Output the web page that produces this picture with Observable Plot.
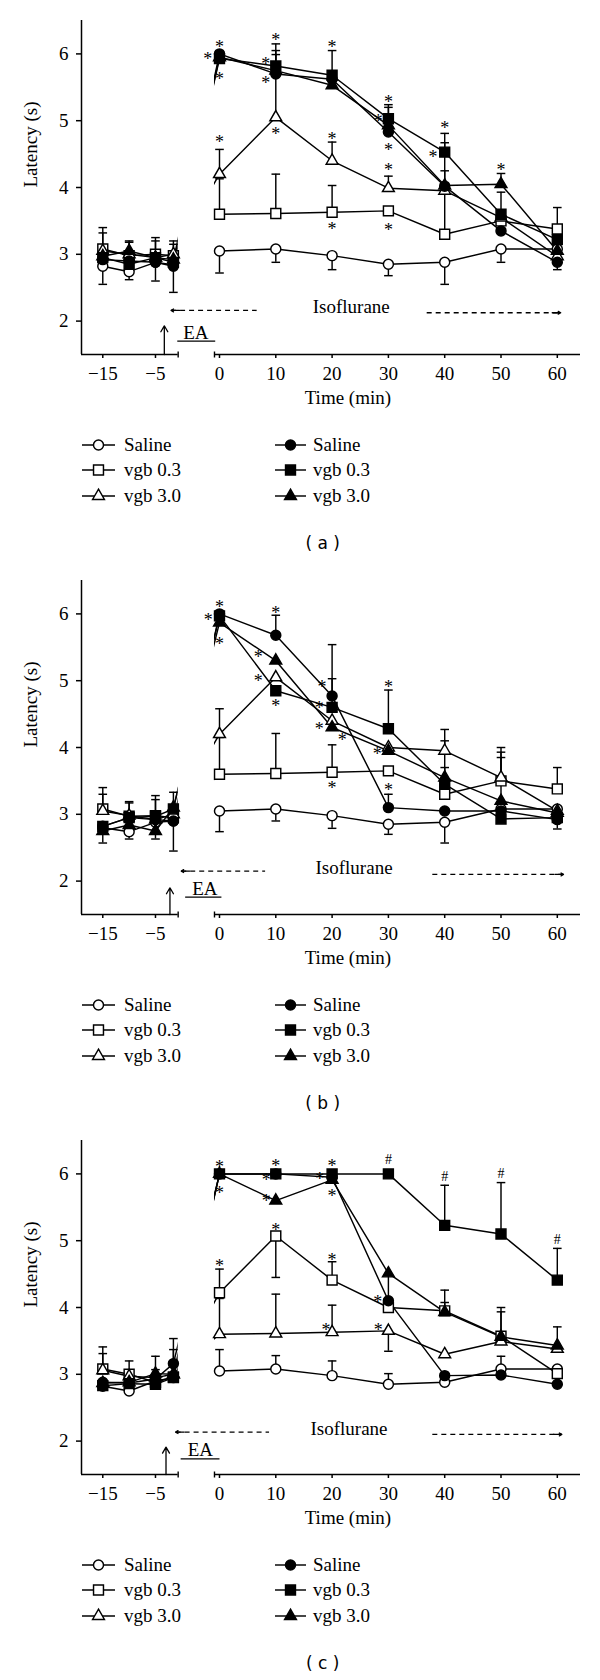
<!DOCTYPE html>
<html><head><meta charset="utf-8">
<script src="https://cdn.jsdelivr.net/npm/d3@7"></script>
<script src="https://cdn.jsdelivr.net/npm/@observablehq/plot@0.6"></script>
<style>
body{margin:0;background:#fff;}
.block{position:relative;width:600px;height:560px;overflow:hidden;}
.block svg{position:absolute;left:0;}
.block svg text{font-family:"Liberation Serif","Times New Roman",serif;}
.block svg text.cap{font-family:"DejaVu Sans",sans-serif;}
</style></head><body><div id="root"></div><script>
// ---------- shared labels / ticks ----------
const times = [-15, -10, -5, -1.6, 0, 10, 20, 30, 40, 50, 60];
const xTickValues = [-15, -5, 0, 10, 20, 30, 40, 50, 60];
const xTickLabels = ["\u221215", "\u22125", "0", "10", "20", "30", "40", "50", "60"];
const yTickValues = [2, 3, 4, 5, 6];
const yTickLabels = ["2", "3", "4", "5", "6"];
const legendLabels = ["Saline", "vgb 0.3", "vgb 3.0"];
const panelCaptions = ["( a )", "( b )", "( c )"];
const yLabel = "Latency (s)";
const xLabel = "Time (min)";
const isoLabel = "Isoflurane";
const eaLabel = "EA";

// ---------- panel (a) ----------
const aOpenCircle  = [2.82, 2.74, 2.88, 2.84, 3.05, 3.08, 2.98, 2.85, 2.88, 3.08, 3.08];
const aOpenSquare  = [3.08, 2.98, 3.00, 2.98, 3.60, 3.61, 3.63, 3.65, 3.30, 3.50, 3.38];
const aOpenTri     = [3.05, 3.00, 2.95, 3.00, 4.20, 5.05, 4.40, 3.99, 3.95, 3.55, 2.97];
const aFillCircle  = [2.92, 2.90, 2.88, 2.82, 6.00, 5.70, 5.62, 4.83, 4.02, 3.35, 2.88];
const aFillSquare  = [2.95, 2.85, 2.95, 2.88, 5.93, 5.82, 5.68, 5.03, 4.53, 3.60, 3.22];
const aFillTri     = [2.97, 3.05, 2.95, 2.92, 5.95, 5.75, 5.53, 4.93, 4.03, 4.05, 3.05];
const aOpenCircleErr = [2.55, 2.62, 2.60, 2.43, 2.72, 2.88, 2.77, 2.68, 2.55, 2.88, null];
const aOpenSquareErr = [3.40, 3.18, 3.25, 3.20, 4.13, 4.20, 4.03, null, null, null, 3.70];
const aOpenTriErr    = [3.32, 3.20, 3.20, 3.15, 4.57, 5.72, 4.68, 4.17, 3.30, null, null];
const aFillCircleErr = [null, null, null, null, null, 6.05, null, null, 4.25, null, 2.77];
const aFillSquareErr = [null, null, null, null, null, 6.15, 6.05, 5.24, 4.81, 3.93, null];
const aFillTriErr    = [null, null, null, null, null, 5.99, null, 5.20, 4.67, 4.21, null];
const aStars = [[0,6.15],[-2.1,5.98],[0,5.68],[0,4.73],[10,6.26],[8.2,5.90],[8.2,5.62],[10,4.86],
  [20,6.16],[20,4.78],[20,3.43],[30,5.34],[28.2,5.05],[30,4.62],[30,4.31],[30,3.41],[40,4.94],[37.9,4.51],[50,4.32]];
const aHashes = [];
const aIso = {text: [23.4, 2.21], left: [-8.6, 6.6, 2.16], right: [36.8, 60.6, 2.125]};
const aEA = {arrowX: -9.8, arrowTop: 1.93, text: [-4.2, 1.83], line: [-7.5, -0.76, 1.70]};

// ---------- panel (b) ----------
const bOpenCircle  = [2.80, 2.74, 2.88, 2.90, 3.05, 3.08, 2.98, 2.85, 2.88, 3.08, 3.08];
const bOpenSquare  = [3.08, 2.97, 2.98, 2.95, 3.60, 3.61, 3.63, 3.65, 3.30, 3.50, 3.38];
const bOpenTri     = [3.05, 2.98, 2.92, 3.00, 4.20, 5.05, 4.40, 4.00, 3.95, 3.55, 3.05];
const bFillCircle  = [2.82, 2.95, 2.92, 2.90, 6.00, 5.68, 4.77, 3.10, 3.05, 3.05, 2.92];
const bFillSquare  = [2.82, 2.95, 2.97, 3.08, 5.97, 4.85, 4.60, 4.28, 3.45, 2.93, 2.95];
const bFillTri     = [2.75, 2.84, 2.75, 3.10, 5.87, 5.30, 4.30, 3.95, 3.55, 3.20, 3.02];
const bOpenCircleErr = [2.57, 2.63, 2.63, 2.45, 2.74, 2.90, 2.79, 2.70, 2.57, null, 2.78];
const bOpenSquareErr = [3.40, 3.19, 3.28, 3.33, 4.15, 4.21, 4.04, null, null, 3.85, 3.70];
const bOpenTriErr    = [3.30, 3.17, 3.22, 3.10, 4.58, null, null, null, 4.27, 4.00, null];
const bFillCircleErr = [null, null, null, null, null, 5.98, 5.54, 3.30, null, null, null];
const bFillSquareErr = [null, null, null, null, null, null, 5.03, 4.86, 3.70, null, null];
const bFillTriErr    = [null, null, null, null, null, null, null, null, 4.10, 3.93, null];
const bStars = [[0,6.15],[-2.0,5.96],[0,5.61],[10,6.07],[6.9,5.41],[6.9,5.05],[10,4.67],
  [18.2,4.96],[17.7,4.65],[17.7,4.33],[21.8,4.17],[20,3.45],[30,4.96],[28.0,3.95],[30,3.41]];
const bHashes = [];
const bIso = {text: [23.9, 2.20], left: [-6.8, 8.1, 2.15], right: [37.8, 61.1, 2.10]};
const bEA = {arrowX: -8.8, arrowTop: 1.90, text: [-2.6, 1.88], line: [-6.1, 0.34, 1.76]};

// ---------- panel (c) ----------
const cOpenCircle  = [2.82, 2.75, 2.90, 2.95, 3.05, 3.08, 2.98, 2.85, 2.88, 3.08, 3.08];
const cOpenSquare  = [3.08, 3.00, 2.88, 2.96, 4.22, 5.07, 4.41, 4.00, 3.95, 3.57, 3.01];
const cOpenTri     = [3.06, 2.97, 2.95, 3.00, 3.60, 3.61, 3.63, 3.65, 3.30, 3.49, 3.38];
const cFillCircle  = [2.88, 2.87, 2.93, 3.16, 6.00, 6.00, 5.95, 4.10, 2.98, 2.99, 2.85];
const cFillSquare  = [2.83, 2.86, 2.85, 2.95, 6.00, 6.00, 6.00, 6.00, 5.23, 5.10, 4.41];
const cFillTri     = [2.87, 2.88, 3.01, 3.00, 6.00, 5.60, 5.91, 4.51, 3.93, 3.56, 3.43];
const cOpenCircleErr = [null, null, null, null, 3.37, 3.28, 3.20, 3.01, null, 3.27, null];
const cOpenSquareErr = [3.41, 3.20, 3.27, 3.535, 4.575, 4.45, 4.685, null, 4.26, 4.00, null];
const cOpenTriErr    = [3.31, null, 3.07, 3.37, 4.135, 4.20, 4.035, 3.345, null, null, null];
const cFillCircleErr = [null, null, null, null, null, null, null, null, null, null, null];
const cFillSquareErr = [null, null, null, null, null, null, null, null, 5.83, 5.87, 4.885];
const cFillTriErr    = [null, null, null, null, null, null, null, 4.13, 4.075, 3.935, 3.71];
const cStars = [[0,6.16],[0,5.76],[0,4.68],[10,6.17],[8.3,5.96],[8.3,5.65],[10,5.22],
  [20,6.17],[17.8,5.98],[20,5.73],[20,4.76],[18.9,3.71],[28.1,4.13],[28.2,3.71]];
const cHashes = [[30,6.22],[40,5.96],[50,6.01],[60,5.02]];
const cIso = {text: [23.0, 2.19], left: [-7.8, 8.8, 2.135], right: [37.8, 60.8, 2.10]};
const cEA = {arrowX: -9.5, arrowTop: 1.91, text: [-3.4, 1.87], line: [-6.9, 0.0, 1.735]};

// ---------- layout (broken time axis) ----------
const PRE_REF = -5, PRE_REF_POS = -11.37, PRE_K = 0.936;
const pos = t => t < -0.5 ? PRE_REF_POS + (t - PRE_REF) * PRE_K : t;
const X_DOMAIN = [-24.51, 64.12];
const Y_DOMAIN = [1.5, 6.5];
const BREAK = [-7.34, -0.89];
const TIME_LABEL_X = 22.8;
const SYM = ["circle", "square", "triangle"];
const RAD = [5, 5.6, 4.4];
const SW = 1.45;
const capSym = {draw(ctx) { ctx.moveTo(-4.3, 0); ctx.lineTo(4.3, 0); }};
const vTick = {draw(ctx) { ctx.moveTo(0, -3); ctx.lineTo(0, 3); }};
const xLabelAt = new Map(xTickValues.map((v, i) => [pos(v), xTickLabels[i]]));
const yLabelAt = new Map(yTickValues.map((v, i) => [v, yTickLabels[i]]));

const panels = [
  {series: [[aOpenCircle, aOpenCircleErr], [aOpenSquare, aOpenSquareErr], [aOpenTri, aOpenTriErr],
            [aFillCircle, aFillCircleErr], [aFillSquare, aFillSquareErr], [aFillTri, aFillTriErr]],
   stars: aStars, hashes: aHashes, iso: aIso, ea: aEA},
  {series: [[bOpenCircle, bOpenCircleErr], [bOpenSquare, bOpenSquareErr], [bOpenTri, bOpenTriErr],
            [bFillCircle, bFillCircleErr], [bFillSquare, bFillSquareErr], [bFillTri, bFillTriErr]],
   stars: bStars, hashes: bHashes, iso: bIso, ea: bEA},
  {series: [[cOpenCircle, cOpenCircleErr], [cOpenSquare, cOpenSquareErr], [cOpenTri, cOpenTriErr],
            [cFillCircle, cFillCircleErr], [cFillSquare, cFillSquareErr], [cFillTri, cFillTriErr]],
   stars: cStars, hashes: cHashes, iso: cIso, ea: cEA}
];

const FONT = "Liberation Serif";
const root = document.getElementById("root");

panels.forEach((P, pi) => {
  const rows = [];
  P.series.forEach(([vals, errs], si) => vals.forEach((v, i) =>
    rows.push({si, x: pos(times[i]), y: v, err: errs[i]})));
  const errRows = rows.filter(d => d.err != null);
  const dotMarks = [0, 1, 2, 3, 4, 5].map(si => Plot.dot(rows.filter(d => d.si === si), {
    x: "x", y: "y", symbol: SYM[si % 3], r: RAD[si % 3],
    fill: si < 3 ? "white" : "black", stroke: "black", strokeWidth: SW
  }));
  const iso = P.iso, ea = P.ea;
  const T = {fontFamily: FONT, fontSize: 19};
  const plot = Plot.plot({
    width: 600, height: 420,
    marginTop: 20, marginBottom: 66, marginLeft: 81, marginRight: 20,
    x: {domain: X_DOMAIN}, y: {domain: Y_DOMAIN},
    style: {background: "white", fontFamily: FONT, fontSize: "19px", color: "black", overflow: "visible"},
    marks: [
      Plot.line(rows, {x: "x", y: "y", z: "si", stroke: "black", strokeWidth: SW}),
      Plot.rect([BREAK], {x1: d => d[0], x2: d => d[1], y1: Y_DOMAIN[0], y2: Y_DOMAIN[1], fill: "white"}),
      Plot.ruleX([X_DOMAIN[0]], {y1: Y_DOMAIN[0], y2: Y_DOMAIN[1], strokeWidth: 1.5}),
      Plot.ruleY([Y_DOMAIN[0]], {x1: X_DOMAIN[0], x2: BREAK[0], strokeWidth: 1.5}),
      Plot.ruleY([Y_DOMAIN[0]], {x1: BREAK[1], x2: X_DOMAIN[1], strokeWidth: 1.5}),
      Plot.dot(BREAK, {x: d => d, y: Y_DOMAIN[0], symbol: vTick, stroke: "black", fill: "none", strokeWidth: 1.4}),
      Plot.axisY({ticks: yTickValues, tickFormat: d => yLabelAt.get(d), tickSize: 5, tickPadding: 8,
                  label: null, strokeWidth: 1.5, ...T}),
      Plot.axisX({ticks: xTickValues.map(pos), tickFormat: d => xLabelAt.get(d), tickSize: 4, tickPadding: 7.5,
                  label: null, strokeWidth: 1.5, ...T}),
      Plot.ruleX(errRows, {x: "x", y1: "y", y2: "err", stroke: "black", strokeWidth: SW}),
      Plot.dot(errRows, {x: "x", y: "err", symbol: capSym, stroke: "black", fill: "none", strokeWidth: SW}),
      ...dotMarks,
      Plot.text(P.stars, {x: d => d[0], y: d => d[1], text: () => "*", fontFamily: FONT, fontSize: 18, dy: 3.8}),
      Plot.text(P.hashes, {x: d => d[0], y: d => d[1], text: () => "#", fontFamily: FONT, fontSize: 14}),
      Plot.text([iso.text], {x: d => d[0], y: d => d[1], text: () => isoLabel, ...T}),
      Plot.link([iso.left, iso.right], {x1: d => d[0], x2: d => d[1], y1: d => d[2], y2: d => d[2],
                strokeDasharray: "5,4", strokeWidth: 1.3}),
      Plot.arrow([[iso.left[0] + 1.5, iso.left[0], iso.left[2]], [iso.right[1] - 1.5, iso.right[1], iso.right[2]]],
                 {x1: d => d[0], x2: d => d[1], y1: d => d[2], y2: d => d[2], headLength: 8, strokeWidth: 1.3}),
      Plot.arrow([ea], {x1: d => d.arrowX, x2: d => d.arrowX, y1: Y_DOMAIN[0], y2: d => d.arrowTop,
                 headLength: 8, strokeWidth: 1.3}),
      Plot.text([ea.text], {x: d => d[0], y: d => d[1], text: () => eaLabel, ...T}),
      Plot.link([ea.line], {x1: d => d[0], x2: d => d[1], y1: d => d[2], y2: d => d[2], strokeWidth: 1.3}),
      Plot.text([yLabel], {frameAnchor: "left", text: d => d, rotate: -90, dx: -50.5, ...T}),
      Plot.text([xLabel], {x: TIME_LABEL_X, frameAnchor: "bottom", text: d => d, dy: 49, ...T})
    ]
  });
  const block = document.createElement("div");
  block.className = "block";
  plot.style.top = "0px";
  block.appendChild(plot);
  root.appendChild(block);

  // legend + caption below the plot
  const svg = d3.select(block).append("svg")
    .attr("width", 600).attr("height", 140).style("top", "420px");
  const rowY = [25, 50, 76];
  const cols = [{x0: 82, x1: 115, tx: 124, fill: "white"}, {x0: 275, x1: 306, tx: 313, fill: "black"}];
  cols.forEach(c => legendLabels.forEach((lab, i) => {
    const g = svg.append("g").attr("transform", `translate(0,${rowY[i]})`);
    g.append("line").attr("x1", c.x0).attr("x2", c.x1).attr("stroke", "black").attr("stroke-width", SW);
    const type = [d3.symbolCircle, d3.symbolSquare, d3.symbolTriangle][i];
    g.append("path").attr("d", d3.symbol().type(type).size(Math.PI * RAD[i] * RAD[i])())
      .attr("transform", `translate(${(c.x0 + c.x1) / 2},0)`)
      .attr("fill", c.fill).attr("stroke", "black").attr("stroke-width", SW);
    g.append("text").attr("x", c.tx).attr("dy", "0.32em")
      .attr("font-size", 19).text(lab);
  }));
  svg.append("text").attr("class", "cap").attr("x", 322.7).attr("y", 123).attr("dy", "0.35em")
    .attr("text-anchor", "middle").attr("font-size", 17).text(panelCaptions[pi]);
});
</script></body></html>
